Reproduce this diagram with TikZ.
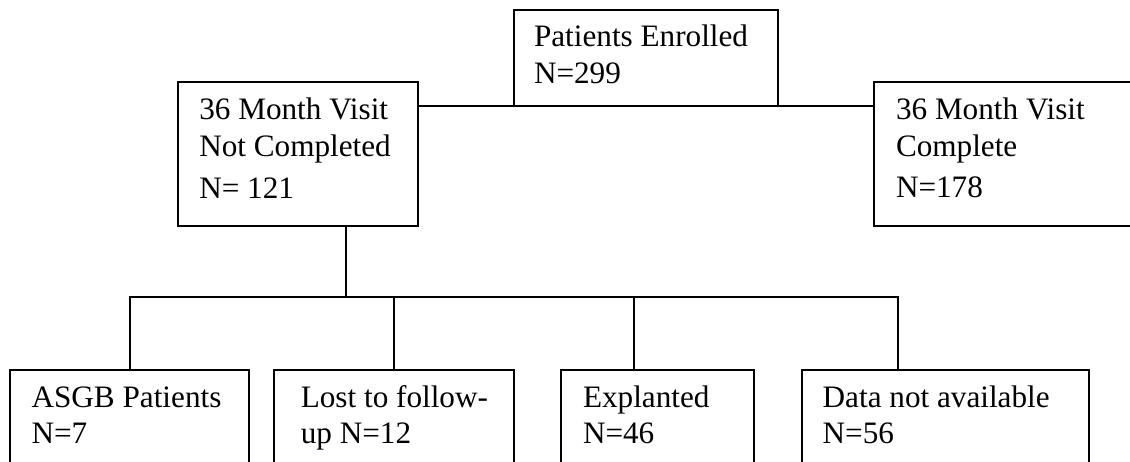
\documentclass[tikz,border=0pt]{standalone}
\usepackage{fontspec}
\setmainfont{Liberation Serif}
\begin{document}
\begin{tikzpicture}[x=1pt,y=-1pt,
  line width=2pt,
  box/.style={draw=black,line width=2pt,rectangle,inner sep=0pt,outer sep=0pt,anchor=north west},
  txt/.style={inner sep=0pt,anchor=base west,font=\fontsize{31.2}{36}\selectfont}]
\useasboundingbox (0,0) rectangle (1130,462);
\clip (0,0) rectangle (1130,462);
% boxes
\node[box,minimum width=263.7pt,minimum height=96pt] (P) at (514,10) {};
\node[box,minimum width=240.6pt,minimum height=144pt] (L) at (177.7,81.7) {};
\node[box,minimum width=300pt,minimum height=143.7pt] (R) at (874,82) {};
\node[box,minimum width=239.3pt,minimum height=130pt] (B1) at (10,370) {};
\node[box,minimum width=239.6pt,minimum height=130pt] (B2) at (273.9,370) {};
\node[box,minimum width=192.5pt,minimum height=130pt] (B3) at (561,370) {};
\node[box,minimum width=287.5pt,minimum height=130pt] (B4) at (801.8,370) {};
% texts
\node[txt] (p1) at (533,46.7) {Patients Enrolled};
\node[txt] (p2) at (533,83.3) {N=299};
\node[txt] (l1) at (198.3,120) {36 Month Visit};
\node[txt] (l2) at (198.3,156.7) {Not Completed};
\node[txt] (l3) at (198.3,198.3) {N= 121};
\node[txt] (r1) at (895,120) {36 Month Visit};
\node[txt] (r2) at (895,156.3) {Complete};
\node[txt] (r3) at (895,197.5) {N=178};
\node[txt] (b1a) at (30.6,407) {ASGB Patients};
\node[txt] (b1b) at (30.6,443) {N=7};
\node[txt] (b2a) at (299.8,407) {Lost to follow-};
\node[txt] (b2b) at (299.8,443) {up N=12};
\node[txt] (b3a) at (582,407) {Explanted};
\node[txt] (b3b) at (582,443) {N=46};
\node[txt] (b4a) at (821.7,407) {Data not available};
\node[txt] (b4b) at (821.7,443) {N=56};
% connectors
\coordinate (j) at (346,297);
\coordinate (d3) at (634,370);
\coordinate (d4) at (898,370);
\draw (L.east |- P.south) -- (R.west |- P.south);
\draw (L.south -| j) -- (j);
\draw (B1.north) |- (d4 |- j) -- (d4);
\draw (B2.north) -- (B2.north |- j);
\draw (d3) -- (d3 |- j);
\end{tikzpicture}
\end{document}
